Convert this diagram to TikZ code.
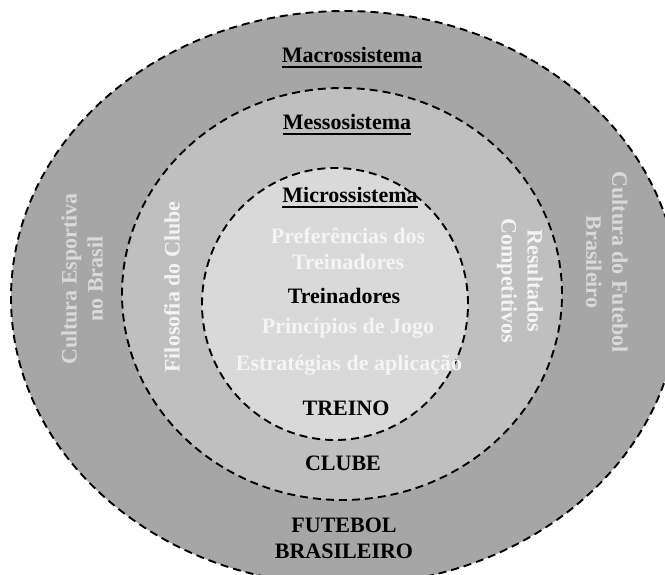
\documentclass[tikz,border=0pt]{standalone}
\usepackage{fontspec}
\setmainfont{Liberation Serif}
\definecolor{outergray}{HTML}{A6A6A6}
\definecolor{midgray}{HTML}{BFBFBF}
\definecolor{innergray}{HTML}{D9D9D9}
\definecolor{softtext}{HTML}{DADADA}
\definecolor{palettext}{HTML}{F4F4F4}
\begin{document}
\begin{tikzpicture}[x=1pt,y=-1pt,
  ring/.style={draw=black, line width=1.9pt, dash pattern=on 8pt off 5pt},
  lbl/.style={font=\fontsize{22}{26}\selectfont\bfseries, align=center, inner sep=0pt, text=black},
  pale/.style={lbl, text=palettext},
  soft/.style={lbl, text=softtext},
  ul/.style={line width=2pt}]
\useasboundingbox (0,0) rectangle (665,574);
\begin{scope}
  \clip (0,0) rectangle (665,574);
  \fill[white] (0,0) rectangle (665,574);
  % nested systems
  \draw[ring, fill=outergray] (345,298) ellipse [x radius=334pt, y radius=287pt];
  \draw[ring, fill=midgray] (342,294) ellipse [x radius=220pt, y radius=206pt];
  \draw[ring, fill=innergray] (335,304) ellipse [x radius=133pt, y radius=136pt];
\end{scope}

% system titles
\node[lbl] (mac) at (352,55) {Macrossistema};
\node[lbl] (mes) at (347,122) {Messosistema};
\node[lbl] (mic) at (350,195) {Microssistema};
\foreach \n in {mac,mes,mic}
  \draw[ul] ([yshift=-4pt]\n.base west) -- ([yshift=-4pt]\n.base east);

% microsystem contents
\node[pale] (pref) at (348,249) {Preferências dos\\Treinadores};
\node[lbl] (trein) at (344,296) {Treinadores};
\node[pale] (princ) at (348,328) {Princípios de Jogo};
\node[pale] (estr) at (349,365) {Estratégias de aplicação};
\node[lbl] (treino) at (346,408) {TREINO};

% mesosystem
\node[lbl] (clube) at (343,463) {CLUBE};
\node[pale, rotate=90] (filo) at (172,287) {Filosofia do Clube};
\node[pale, rotate=-90] (res) at (520,281) {Resultados\\Competitivos};

% macrosystem
\node[lbl] (fut) at (344,538) {FUTEBOL\\BRASILEIRO};
\node[soft, rotate=90] (cesp) at (82,279) {Cultura Esportiva\\no Brasil};
\node[soft, rotate=-90] (cfut) at (607,262) {Cultura do Futebol\\Brasileiro};
\end{tikzpicture}
\end{document}
